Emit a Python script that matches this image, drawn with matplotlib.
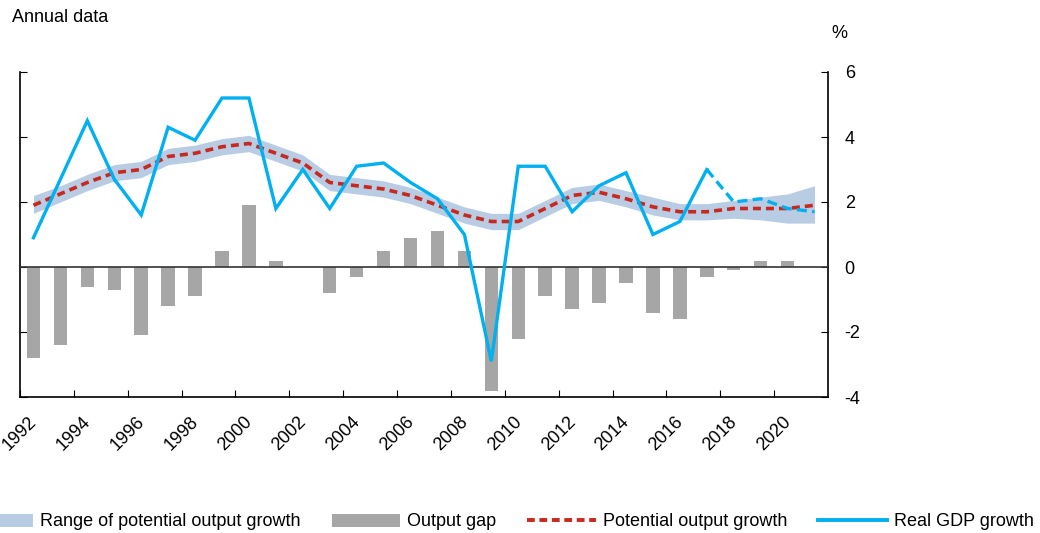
import numpy as np
import matplotlib.pyplot as plt
from matplotlib.patches import Patch
from matplotlib.lines import Line2D

plt.rcParams["font.family"] = ["Liberation Sans", "DejaVu Sans"]
plt.rcParams["axes.unicode_minus"] = False

# data
years = list(range(1992, 2022))
output_gap = [-2.8, -2.4, -0.6, -0.7, -2.1, -1.2, -0.9, 0.5, 1.9, 0.2,
              0.0, -0.8, -0.3, 0.5, 0.9, 1.1, 0.5, -3.8, -2.2, -0.9,
              -1.3, -1.1, -0.5, -1.4, -1.6, -0.3, -0.1, 0.2, 0.2, 0.0]
potential = [1.9, 2.25, 2.6, 2.9, 3.0, 3.4, 3.5, 3.7, 3.8, 3.5,
             3.2, 2.6, 2.5, 2.4, 2.2, 1.9, 1.6, 1.4, 1.4, 1.8,
             2.2, 2.3, 2.1, 1.85, 1.7, 1.7, 1.8, 1.8, 1.8, 1.9]
range_upper = [2.2, 2.5, 2.85, 3.15, 3.25, 3.65, 3.75, 3.95, 4.05, 3.75,
               3.45, 2.85, 2.75, 2.65, 2.45, 2.15, 1.85, 1.65, 1.65, 2.05,
               2.45, 2.55, 2.35, 2.15, 1.95, 1.95, 2.05, 2.15, 2.25, 2.5]
range_lower = [1.65, 2.0, 2.35, 2.65, 2.75, 3.15, 3.25, 3.45, 3.55, 3.25,
               2.95, 2.35, 2.25, 2.15, 1.95, 1.65, 1.35, 1.15, 1.15, 1.55,
               1.95, 2.05, 1.85, 1.6, 1.45, 1.45, 1.5, 1.45, 1.35, 1.35]
real_gdp = [0.9, 2.7, 4.5, 2.7, 1.6, 4.3, 3.9, 5.2, 5.2, 1.8,
            3.0, 1.8, 3.1, 3.2, 2.6, 2.1, 1.0, -2.9, 3.1, 3.1,
            1.7, 2.5, 2.9, 1.0, 1.4, 3.0, 2.0, 2.1, 1.8, 1.7]
last_actual = 2017

BLUE = "#00B0F0"
RED = "#C8281E"
BAND = "#B8CCE4"
GREY = "#A6A6A6"
FS = 13

x = np.arange(len(years)) + 0.5
split = years.index(last_actual) + 1

fig = plt.figure(figsize=(10.4, 5.33), dpi=100)
ax = fig.add_axes([20 / 1040, 136 / 533, 808 / 1040, 325 / 533])

ax.fill_between(x, range_lower, range_upper, color=BAND, lw=0, zorder=1)
ax.bar(x, output_gap, width=0.5, color=GREY, zorder=2)
ax.axhline(0, color="#333333", lw=1.2, zorder=3)
ax.plot(x, potential, color=RED, lw=2.6, ls=(0, (2.2, 1.4)), zorder=4)
ax.plot(x[:split], real_gdp[:split], color=BLUE, lw=2.4, zorder=5,
        solid_joinstyle="miter")
ax.plot(x[split - 1:], real_gdp[split - 1:], color=BLUE, lw=2.4,
        ls=(0, (3, 1.6)), zorder=5)

ax.set_xlim(0, len(years))
ax.set_ylim(-4, 6)
ax.set_yticks([-4, -2, 0, 2, 4, 6])

tick_pos = np.arange(0, len(years), 2)
ax.set_xticks(tick_pos)
ax.set_xticklabels([str(years[i]) for i in tick_pos], rotation=45,
                   ha="center", va="top")

ax.spines["top"].set_visible(False)
for s in ["left", "right", "bottom"]:
    ax.spines[s].set_color("black")
    ax.spines[s].set_linewidth(1.2)

ax.tick_params(axis="x", direction="in", length=5, labelsize=FS, pad=12)
ax.tick_params(axis="y", direction="in", length=5, labelsize=FS,
               left=True, right=True, labelleft=False, labelright=True, pad=12)

fig.text(12 / 1040, 1 - 17 / 533, "Annual data", fontsize=FS,
         ha="left", va="center")
fig.text(839 / 1040, 1 - 34 / 533, "%", fontsize=FS, ha="center",
         va="center")

handles = [
    Patch(facecolor=BAND, edgecolor="none"),
    Patch(facecolor=GREY, edgecolor="none"),
    Line2D([], [], color=RED, lw=2.8, ls=(0, (2.0, 1.2))),
    Line2D([], [], color=BLUE, lw=2.8),
]
labels = ["Range of potential output growth", "Output gap",
          "Potential output growth", "Real GDP growth"]
fig.legend(handles, labels, loc="center", bbox_to_anchor=(0.48, 1 - 522 / 533),
           ncol=4, frameon=False, fontsize=FS, handlelength=3.8,
           handleheight=0.7, handletextpad=0.4, columnspacing=1.7,
           borderpad=0.2)

fig.savefig("out.png", dpi=100, facecolor="white")
